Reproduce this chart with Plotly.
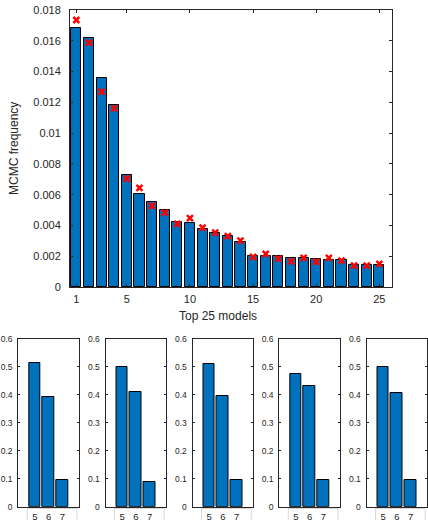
import plotly.graph_objects as go

W, H = 428, 520

# ---- data ----
models = list(range(1, 26))
freq = [0.01685, 0.01616, 0.01356, 0.01182, 0.00727, 0.00607, 0.00553, 0.00503,
        0.00425, 0.00419, 0.00377, 0.00349, 0.00330, 0.00295, 0.00204, 0.00204,
        0.00200, 0.00191, 0.00189, 0.00184, 0.00178, 0.00174, 0.00141, 0.00141, 0.00141]
est = [0.01735, 0.01588, 0.01269, 0.01160, 0.00705, 0.00644, 0.00527, 0.00484,
       0.00410, 0.00447, 0.00386, 0.00354, 0.00330, 0.00302, 0.00195, 0.00215,
       0.00184, 0.00167, 0.00189, 0.00163, 0.00189, 0.00171, 0.00139, 0.00139, 0.00150]
x_ticks = [1, 5, 10, 15, 20, 25]
y_ticks = [0, 0.002, 0.004, 0.006, 0.008, 0.01, 0.012, 0.014, 0.016, 0.018]
y_tick_text = ["0", "0.002", "0.004", "0.006", "0.008", "0.01", "0.012", "0.014", "0.016", "0.018"]

sub_cats = [5, 6, 7]
sub1 = [0.513, 0.391, 0.094]
sub2 = [0.501, 0.409, 0.090]
sub3 = [0.509, 0.395, 0.094]
sub4 = [0.474, 0.432, 0.094]
sub5 = [0.499, 0.408, 0.094]
subs = [sub1, sub2, sub3, sub4, sub5]
sub_y_ticks = [0, 0.1, 0.2, 0.3, 0.4, 0.5, 0.6]
sub_y_text = ["0", "0.1", "0.2", "0.3", "0.4", "0.5", "0.6"]

BLUE = "#0072BD"
AX = "#262626"
FONT = "Liberation Sans, Arial, sans-serif"

def px_x(v):
    return v / W

def px_y(v):
    return 1 - v / H

fig = go.Figure()

# main chart
fig.add_trace(go.Bar(x=models, y=freq, width=0.8, marker=dict(color=BLUE, line=dict(color="black", width=1)),
                     xaxis="x", yaxis="y", showlegend=False))
fig.add_trace(go.Scatter(x=models, y=est, mode="markers",
                         marker=dict(symbol="x-thin", size=6, line=dict(color="#FF0000", width=2.5), color="#FF0000"),
                         xaxis="x", yaxis="y", showlegend=False))

layout = dict(
    width=W, height=H, margin=dict(l=0, r=0, t=0, b=0, autoexpand=False),
    paper_bgcolor="white", plot_bgcolor="white",
    font=dict(family=FONT, color=AX),
    bargap=0,
)

common = dict(showgrid=False, zeroline=False, showline=True, linecolor=AX, linewidth=1,
              mirror="allticks", ticks="inside", tickcolor=AX, automargin=False)

layout["xaxis"] = dict(common, domain=[px_x(70), px_x(392)], anchor="y", range=[0.5, 26],
                       tickvals=x_ticks, ticklen=3, tickfont=dict(size=11, color=AX), ticklabelstandoff=2)
layout["yaxis"] = dict(common, domain=[px_y(287), px_y(10)], anchor="x", range=[0, 0.018],
                       tickvals=y_ticks, ticktext=y_tick_text, ticklen=3,
                       tickfont=dict(size=11, color=AX), ticklabelstandoff=6)

annotations = [
    dict(text="Top 25 models", x=px_x(218), y=px_y(316), xref="paper", yref="paper",
         showarrow=False, font=dict(size=12, color=AX), xanchor="center", yanchor="middle"),
    dict(text="MCMC frequency", x=px_x(14), y=px_y(149), xref="paper", yref="paper",
         showarrow=False, textangle=-90, font=dict(size=12, color=AX), xanchor="center", yanchor="middle"),
]
shapes = []

lefts = [18.3, 105.5, 192.5, 279.3, 366.5]
width_px = 60.7
for i, (vals, left) in enumerate(zip(subs, lefts)):
    k = i + 2
    xa = f"x{k}"
    ya = f"y{k}"
    fig.add_trace(go.Bar(x=sub_cats, y=vals, width=0.85,
                         marker=dict(color=BLUE, line=dict(color="black", width=1)),
                         xaxis=xa, yaxis=ya, showlegend=False))
    layout[f"xaxis{k}"] = dict(common, domain=[px_x(left), px_x(left + width_px)], anchor=ya,
                               range=[3.8, 8.2], tickvals=sub_cats, ticks="", ticklen=0,
                               tickfont=dict(size=9.5, color=AX), ticklabelstandoff=1)
    layout[f"yaxis{k}"] = dict(common, domain=[px_y(506.7), px_y(339)], anchor=xa,
                               range=[0, 0.6], tickvals=sub_y_ticks, ticktext=sub_y_text,
                               ticklen=2, tickfont=dict(size=8.5, color=AX), ticklabelstandoff=3)
    shapes.append(dict(type="rect", xref="paper", yref="paper",
                       x0=px_x(left + 9), x1=px_x(left + width_px - 2),
                       y0=px_y(530), y1=px_y(508.5),
                       line=dict(color="#d9d9d9", width=1), fillcolor="rgba(0,0,0,0)", layer="below"))

layout["annotations"] = annotations
layout["shapes"] = shapes
fig.update_layout(**layout)

fig.write_html("out.html", config={"displayModeBar": False},
               post_script="document.body.style.margin='0';document.body.style.overflow='hidden';")
